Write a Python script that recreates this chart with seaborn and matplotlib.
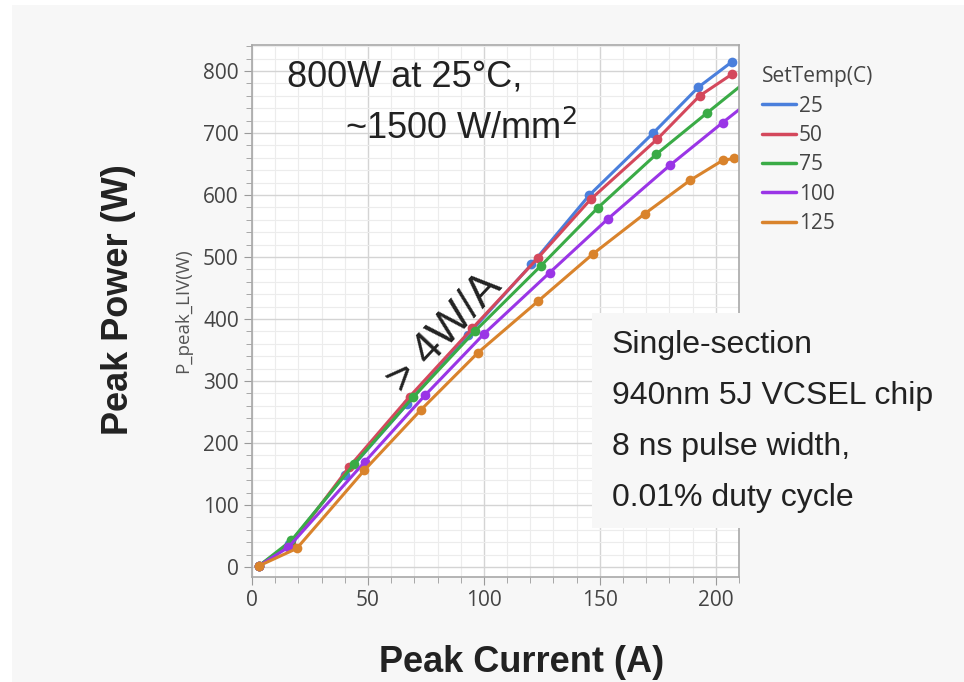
import numpy as np
import pandas as pd
import matplotlib
matplotlib.use("Agg")
import matplotlib.pyplot as plt
import seaborn as sns
from matplotlib.lines import Line2D
from matplotlib.patches import Rectangle
from matplotlib.ticker import MultipleLocator

# peak current (A) and peak power (W) per set temperature
temps = ["25", "50", "75", "100", "125"]
current_25 = [3, 16, 40, 67, 93, 120.5, 145.5, 173, 192.5, 207]
power_25 = [2, 37, 148, 263, 374, 488, 600, 700, 774, 815]
current_50 = [3, 17, 42, 68, 95, 123.4, 146, 174.7, 193, 207]
power_50 = [2, 38, 162, 275, 385, 499, 593, 690, 760, 795]
current_75 = [3, 17, 44, 69.5, 96, 124.6, 149, 174.4, 196.4, 215]
power_75 = [2, 43, 166, 274, 380, 486, 579, 666, 733, 789]
current_100 = [3, 15.7, 48.7, 74.6, 100, 128.4, 153.6, 180.2, 203, 226]
power_100 = [2, 32, 170, 277, 376, 475, 562, 648, 717, 785]
current_125 = [3, 19.3, 48.4, 72.7, 97.5, 123.4, 147, 169.4, 189, 203, 208]
power_125 = [2, 30, 156, 253, 346, 429, 505, 570, 624, 656, 659]

colors = ["#4a7fdc", "#d4485c", "#3aab46", "#9a35e6", "#d9832c"]

currents = [current_25, current_50, current_75, current_100, current_125]
powers = [power_25, power_50, power_75, power_100, power_125]
df = pd.concat([
    pd.DataFrame({"current": c, "power": p, "temp": t})
    for c, p, t in zip(currents, powers, temps)
], ignore_index=True)

sns.set_style("white")
plt.rcParams["font.family"] = ["Liberation Sans", "DejaVu Sans"]

fig = plt.figure(figsize=(9.64, 6.82), dpi=100, facecolor="white")
# grey panel behind everything
fig.patches.append(Rectangle((12 / 964, 0), 1, 1 - 5 / 682, transform=fig.transFigure,
                             facecolor="#f7f7f7", edgecolor="none", zorder=-10))

ax = fig.add_axes([252 / 964, 105 / 682, (739 - 252) / 964, (577 - 45) / 682])
ax.set_facecolor("white")

sns.lineplot(data=df, x="current", y="power", hue="temp", palette=colors,
             hue_order=temps, estimator=None, sort=False, marker="o",
             markersize=7, markeredgewidth=0, linewidth=2.2, legend=False, ax=ax)

ax.set_xlim(0, 210)
ax.set_ylim(-16, 842)
ax.xaxis.set_major_locator(MultipleLocator(50))
ax.xaxis.set_minor_locator(MultipleLocator(10))
ax.yaxis.set_major_locator(MultipleLocator(100))
ax.yaxis.set_minor_locator(MultipleLocator(20))
ax.grid(which="major", color="#d4d4d4", linewidth=1)
ax.grid(which="minor", color="#ececec", linewidth=0.8)
ax.tick_params(which="both", direction="out", colors="#9a9a9a", bottom=True, left=True)
ax.tick_params(which="major", length=6, labelsize=15, labelcolor="#444444")
ax.tick_params(which="minor", length=4)
for lab in ax.get_xticklabels() + ax.get_yticklabels():
    lab.set_family("Open Sans")
for s in ax.spines.values():
    s.set_color("#a8a8a8")
    s.set_linewidth(1.2)
ax.set_xlabel("")
ax.set_ylabel("P_peak_LIV(W)", fontsize=13.5, color="#555555", family="Open Sans", labelpad=8)

# big axis titles
fig.text(522 / 964, 1 - 662 / 682, "Peak Current (A)", fontsize=26, fontweight="bold",
         ha="center", va="center", color="#222222")
fig.text(118 / 964, 1 - 300 / 682, "Peak Power (W)", fontsize=26, fontweight="bold",
         ha="center", va="center", rotation=90, color="#222222")

# annotations
ax.text(15, 790, "800W at 25°C,", fontsize=26, color="#222222", va="center")
ax.text(40, 707, "~1500 W/mm$^2$", fontsize=26, color="#222222", va="center")
ax.text(83, 377, "> 4W/A", fontsize=32, color="#222222", rotation=47,
        ha="center", va="center")

fig.patches.append(Rectangle((592 / 964, 1 - 528 / 682), 1, (528 - 313) / 682,
                             transform=fig.transFigure, facecolor="#f7f7f7",
                             edgecolor="none", zorder=5))
info = ["Single-section", "940nm 5J VCSEL chip", "8 ns pulse width,", "0.01% duty cycle"]
for i, line in enumerate(info):
    fig.text(612 / 964, 1 - (345 + 51 * i) / 682, line, fontsize=23, color="#222222",
             va="center", ha="left", zorder=6)

handles = [Line2D([0], [0], color=c, linewidth=2.5) for c in colors]
leg = fig.legend(handles, temps, title="SetTemp(C)", loc="upper left",
                 bbox_to_anchor=(752 / 964, 1 - 56 / 682), frameon=False,
                 fontsize=15, title_fontsize=15, handlelength=1.6, handletextpad=0.15,
                 labelspacing=0.4, alignment="left", borderpad=0)
for t in leg.get_texts() + [leg.get_title()]:
    t.set_family("Open Sans")
    t.set_color("#444444")

fig.savefig("out.png", dpi=100, facecolor=fig.get_facecolor())
